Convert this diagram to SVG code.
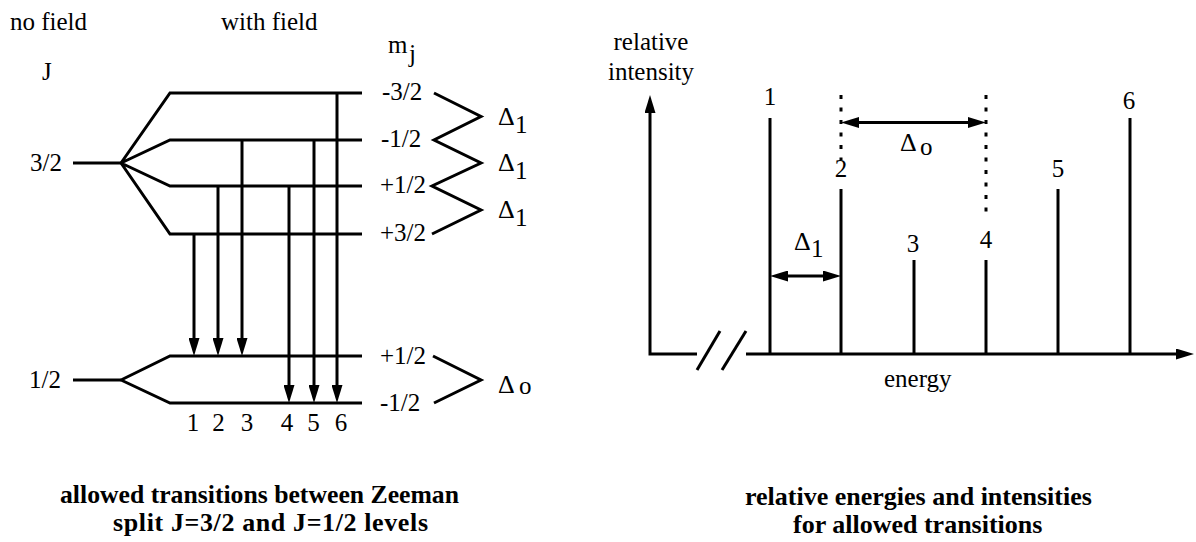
<svg xmlns="http://www.w3.org/2000/svg" width="1196" height="542" viewBox="0 0 1196 542">
<defs>
<style>
.ln{stroke:#000;stroke-width:3;fill:none;stroke-linejoin:miter}
.dot{stroke:#000;stroke-width:3;fill:none;stroke-dasharray:4 8.5}
text{font-family:"Liberation Serif","Times New Roman",serif;fill:#000}
.t{font-size:25px}
.d{font-size:26px}
.c{text-anchor:middle}
.cap{font-size:26px;font-weight:bold}
</style>
<marker id="ah" viewBox="0 0 18 11" markerWidth="18" markerHeight="11" markerUnits="userSpaceOnUse" refX="8" refY="5.5" orient="auto-start-reverse">
<path d="M0,0 L18,5.5 L0,11 z" fill="#000"/>
</marker>
</defs>
<rect width="1196" height="542" fill="#fff"/>

<g id="left-diagram">
<g id="headers">
<text class="t" x="10" y="30">no field</text>
<text class="t" x="221" y="30">with field</text>
<text class="t" x="42" y="80">J</text>
<text class="t" x="388" y="53">m</text>
<text class="t" x="409" y="62">j</text>
</g>

<g id="level-J32">
<line class="ln" x1="73" y1="163" x2="121" y2="163"/>
<text class="t" x="30" y="171">3/2</text>
</g>
<g id="split-J32">
<path class="ln" d="M121,163 L170,93 H362 M121,163 L170,140 H362 M121,163 L170,186 H362 M121,163 L170,234 H362"/>
<text class="t" x="382" y="100">-3/2</text>
<text class="t" x="381" y="147">-1/2</text>
<text class="t" x="380" y="193">+1/2</text>
<text class="t" x="380" y="241">+3/2</text>
<polyline class="ln" points="434,93 481,116.5 434,140 481,163 432,186 481,210 432,234"/>
<text class="d" x="498" y="125">Δ</text><text class="t" x="515" y="133">1</text>
<text class="d" x="498" y="171">Δ</text><text class="t" x="515" y="179">1</text>
<text class="d" x="498" y="218">Δ</text><text class="t" x="515" y="226">1</text>
</g>

<g id="level-J12">
<line class="ln" x1="73" y1="380" x2="121" y2="380"/>
<text class="t" x="29" y="388">1/2</text>
</g>
<g id="split-J12">
<path class="ln" d="M121,380 L170,356 H362 M121,380 L170,403 H362"/>
<text class="t" x="380" y="364">+1/2</text>
<text class="t" x="380" y="411">-1/2</text>
<polyline class="ln" points="433,356 481,380 434,403"/>
<text class="d" x="498" y="393">Δ</text><text class="t" x="519" y="394">o</text>
</g>

<g id="transitions">
<line class="ln" x1="194" y1="234" x2="194" y2="346" marker-end="url(#ah)"/>
<line class="ln" x1="218" y1="186" x2="218" y2="346" marker-end="url(#ah)"/>
<line class="ln" x1="242" y1="140" x2="242" y2="346" marker-end="url(#ah)"/>
<line class="ln" x1="289" y1="186" x2="289" y2="393" marker-end="url(#ah)"/>
<line class="ln" x1="314" y1="140" x2="314" y2="393" marker-end="url(#ah)"/>
<line class="ln" x1="337" y1="93" x2="337" y2="393" marker-end="url(#ah)"/>
</g>
<g id="transition-numbers">
<text class="t c" x="193" y="431">1</text>
<text class="t c" x="218.5" y="431">2</text>
<text class="t c" x="247" y="431">3</text>
<text class="t c" x="287" y="431">4</text>
<text class="t c" x="313.5" y="431">5</text>
<text class="t c" x="341" y="431">6</text>
</g>
<g id="caption-left">
<text class="cap" x="60" y="503" textLength="399" lengthAdjust="spacingAndGlyphs">allowed transitions between Zeeman</text>
<text class="cap" x="113" y="531" textLength="315" lengthAdjust="spacing">split J=3/2 and J=1/2 levels</text>
</g>
</g>

<g id="right-diagram">
<g id="axes">
<path class="ln" d="M697,354 H650 V105" marker-end="url(#ah)"/>
<line class="ln" x1="746" y1="354" x2="1184" y2="354" marker-end="url(#ah)"/>
<line class="ln" x1="697" y1="370" x2="720" y2="331"/>
<line class="ln" x1="722" y1="370" x2="746" y2="331"/>
<text class="t c" x="651" y="50">relative</text>
<text class="t c" x="651" y="80">intensity</text>
<text class="t" x="884" y="387">energy</text>
</g>
<g id="spectral-lines">
<line class="ln" x1="770" y1="118" x2="770" y2="354"/>
<line class="ln" x1="841" y1="189" x2="841" y2="354"/>
<line class="ln" x1="914" y1="260" x2="914" y2="354"/>
<line class="ln" x1="986" y1="260" x2="986" y2="354"/>
<line class="ln" x1="1058" y1="189" x2="1058" y2="354"/>
<line class="ln" x1="1130" y1="118" x2="1130" y2="354"/>
<text class="t c" x="770" y="105">1</text>
<text class="t c" x="841" y="177">2</text>
<text class="t c" x="913" y="252">3</text>
<text class="t c" x="986" y="248">4</text>
<text class="t c" x="1058" y="177">5</text>
<text class="t c" x="1129" y="109">6</text>
</g>
<g id="spacings">
<line class="dot" x1="841" y1="95" x2="841" y2="160"/>
<line class="dot" x1="986" y1="95" x2="986" y2="218"/>
<line class="ln" x1="851" y1="122.5" x2="976" y2="122.5" marker-start="url(#ah)" marker-end="url(#ah)"/>
<text class="d" x="900" y="151">Δ</text><text class="t" x="920" y="155">o</text>
<line class="ln" x1="780" y1="276" x2="831" y2="276" marker-start="url(#ah)" marker-end="url(#ah)"/>
<text class="d" x="794" y="250">Δ</text><text class="t" x="811" y="257">1</text>
</g>
<g id="caption-right">
<text class="cap" x="745" y="505">relative energies and intensities</text>
<text class="cap" x="793" y="533">for allowed transitions</text>
</g>
</g>
</svg>
